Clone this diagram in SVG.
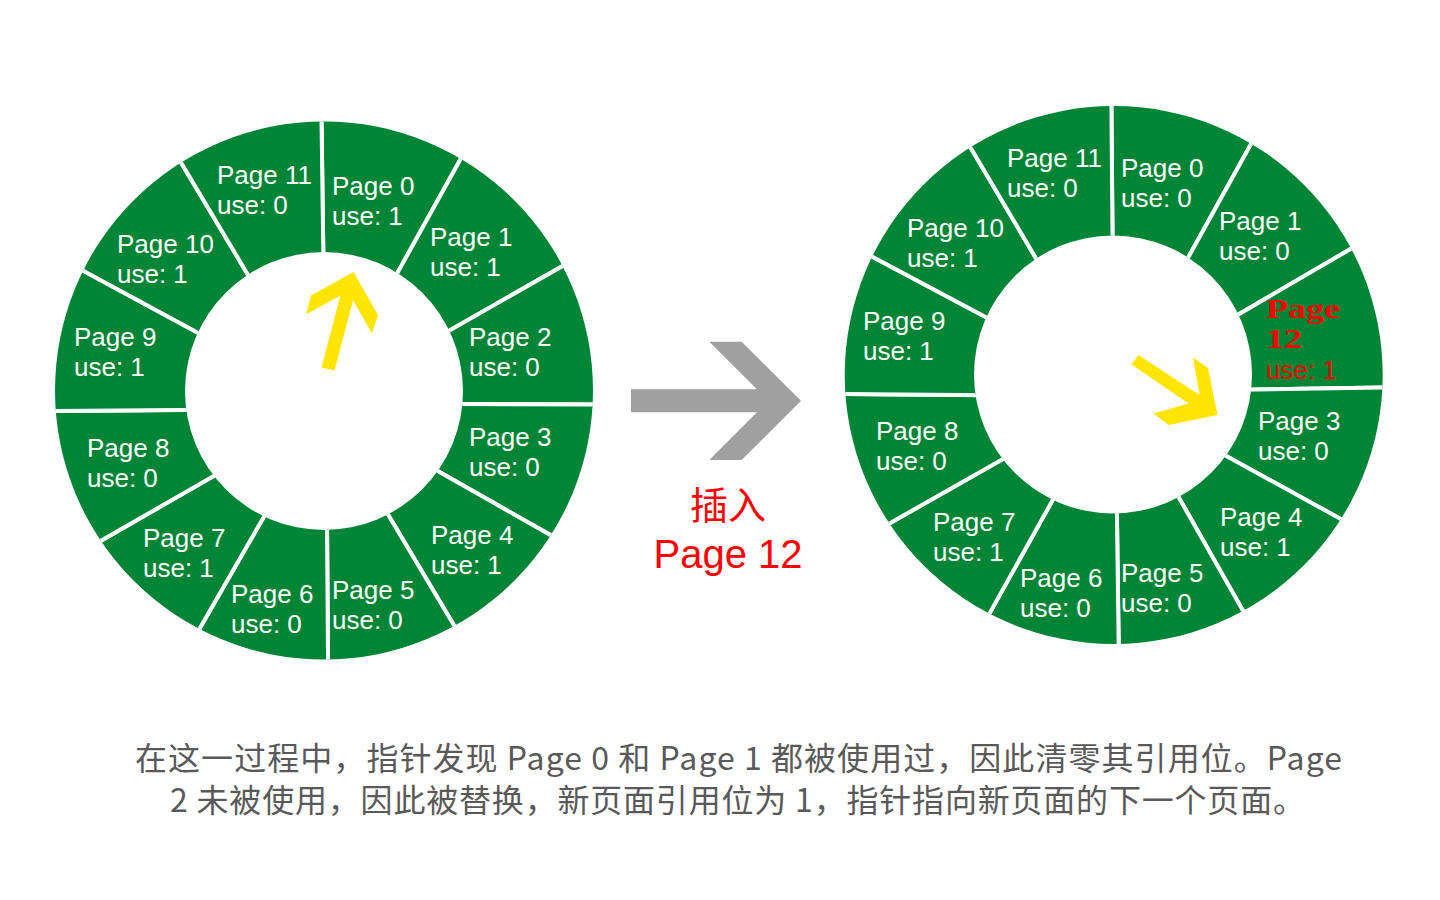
<svg xmlns="http://www.w3.org/2000/svg" width="1440" height="900" viewBox="0 0 1440 900">
<style>
.seg path{fill:#008537;stroke:#fff;stroke-width:4;stroke-linejoin:miter}
.lbl{font-family:"Liberation Sans","Arial",sans-serif;font-size:26px;fill:#fff}
.red{fill:#ff0000}
.bold12{font-family:"Liberation Serif",serif;font-weight:bold;font-size:28px;fill:#ff0000}
.ptr{fill:#ffe500}
.cap{font-family:"Noto Sans CJK SC","Noto Sans",sans-serif;font-size:32px;fill:#595959}
.ins{fill:#ff0000;text-anchor:middle}
.insz{font-family:"Noto Sans CJK SC",sans-serif;font-size:38px}
.insp{font-family:"Liberation Sans","Arial",sans-serif;font-size:40px}
</style>
<defs>
<clipPath id="ringL"><path clip-rule="evenodd" d="M55,390.5a269,269 0 1,0 538,0a269,269 0 1,0 -538,0ZM185,391a139,139 0 1,0 278,0a139,139 0 1,0 -278,0Z"/></clipPath>
<clipPath id="ringR"><path clip-rule="evenodd" d="M844.7,375a269,269 0 1,0 538,0a269,269 0 1,0 -538,0ZM974,374.5a139,139 0 1,0 278,0a139,139 0 1,0 -278,0Z"/></clipPath>
</defs>
<rect width="1440" height="900" fill="#fff"/>

<!-- Left ring -->
<g id="left-ring">
<g id="L-page0" class="seg"><path clip-path="url(#ringL)" d="M324.1,310L320.7,61L489.9,106.3L370.1,322.1Z"/><text class="lbl" x="332" y="195">Page 0</text><text class="lbl" x="332" y="225">use: 1</text></g>
<g id="L-page1" class="seg"><path clip-path="url(#ringL)" d="M370.1,322.1L489.9,106.3L611.2,238.4L401.3,357.9Z"/><text class="lbl" x="430" y="246">Page 1</text><text class="lbl" x="430" y="276">use: 1</text></g>
<g id="L-page2" class="seg"><path clip-path="url(#ringL)" d="M401.3,357.9L611.2,238.4L649.9,404.7L405.5,403.8Z"/><text class="lbl" x="469" y="346">Page 2</text><text class="lbl" x="469" y="376">use: 0</text></g>
<g id="L-page3" class="seg"><path clip-path="url(#ringL)" d="M405.5,403.8L649.9,404.7L600.4,563.4L389.3,443.6Z"/><text class="lbl" x="469" y="446">Page 3</text><text class="lbl" x="469" y="476">use: 0</text></g>
<g id="L-page4" class="seg"><path clip-path="url(#ringL)" d="M389.3,443.6L600.4,563.4L484,675.7L360.8,468.8Z"/><text class="lbl" x="431" y="544">Page 4</text><text class="lbl" x="431" y="574">use: 1</text></g>
<g id="L-page5" class="seg"><path clip-path="url(#ringL)" d="M360.8,468.8L484,675.7L328.5,719.3L326.6,473.2Z"/><text class="lbl" x="332" y="599">Page 5</text><text class="lbl" x="332" y="629">use: 0</text></g>
<g id="L-page6" class="seg"><path clip-path="url(#ringL)" d="M326.6,473.2L328.5,719.3L170.1,679.9L292.2,467.5Z"/><text class="lbl" x="231" y="603">Page 6</text><text class="lbl" x="231" y="633">use: 0</text></g>
<g id="L-page7" class="seg"><path clip-path="url(#ringL)" d="M292.2,467.5L170.1,679.9L51,569.4L262,448.3Z"/><text class="lbl" x="143" y="547">Page 7</text><text class="lbl" x="143" y="577">use: 1</text></g>
<g id="L-page8" class="seg"><path clip-path="url(#ringL)" d="M262,448.3L51,569.4L-2.5,411.5L244.5,409.5Z"/><text class="lbl" x="87" y="457">Page 8</text><text class="lbl" x="87" y="487">use: 0</text></g>
<g id="L-page9" class="seg"><path clip-path="url(#ringL)" d="M244.5,409.5L-2.5,411.5L32.5,243.3L248.6,360.3Z"/><text class="lbl" x="74" y="346">Page 9</text><text class="lbl" x="74" y="376">use: 1</text></g>
<g id="L-page10" class="seg"><path clip-path="url(#ringL)" d="M248.6,360.3L32.5,243.3L151.2,112.5L275.8,321.5Z"/><text class="lbl" x="117" y="253">Page 10</text><text class="lbl" x="117" y="283">use: 1</text></g>
<g id="L-page11" class="seg"><path clip-path="url(#ringL)" d="M275.8,321.5L151.2,112.5L320.7,61L324.1,310Z"/><text class="lbl" x="217" y="184">Page 11</text><text class="lbl" x="217" y="214">use: 0</text></g>
</g>
<g id="L-pointer"><path class="ptr" d="M353.5,272L378,315L372,333.5L353,300.2L334.5,370.5L321.5,367.5L340.4,295.4L306,314.5L311,295.5Z"/></g>

<!-- Right ring -->
<g id="right-ring">
<g id="R-page0" class="seg"><path clip-path="url(#ringR)" d="M1113,293L1110.9,46L1279,93.5L1161.7,305.4Z"/><text class="lbl" x="1121" y="177">Page 0</text><text class="lbl" x="1121" y="207">use: 0</text></g>
<g id="R-page1" class="seg"><path clip-path="url(#ringR)" d="M1161.7,305.4L1279,93.5L1398.2,221.2L1191.3,341.9Z"/><text class="lbl" x="1219" y="230">Page 1</text><text class="lbl" x="1219" y="260">use: 0</text></g>
<g id="R-page12" class="seg"><path clip-path="url(#ringR)" d="M1191.3,341.9L1398.2,221.2L1440.9,386.6L1192.3,390.5Z"/><text class="bold12" x="1266" y="318" textLength="74" lengthAdjust="spacingAndGlyphs">Page</text><text class="bold12" x="1266" y="348" textLength="36" lengthAdjust="spacingAndGlyphs">12</text><text class="lbl red" x="1266" y="379">use: 1</text></g>
<g id="R-page3" class="seg"><path clip-path="url(#ringR)" d="M1192.3,390.5L1440.9,386.6L1385.5,543.7L1178.6,429.7Z"/><text class="lbl" x="1258" y="430">Page 3</text><text class="lbl" x="1258" y="460">use: 0</text></g>
<g id="R-page4" class="seg"><path clip-path="url(#ringR)" d="M1178.6,429.7L1385.5,543.7L1269.9,658.2L1152.6,451.3Z"/><text class="lbl" x="1220" y="526">Page 4</text><text class="lbl" x="1220" y="556">use: 1</text></g>
<g id="R-page5" class="seg"><path clip-path="url(#ringR)" d="M1152.6,451.3L1269.9,658.2L1119.5,705.3L1116.1,453.3Z"/><text class="lbl" x="1121" y="582">Page 5</text><text class="lbl" x="1121" y="612">use: 0</text></g>
<g id="R-page6" class="seg"><path clip-path="url(#ringR)" d="M1116.1,453.3L1119.5,705.3L962,662.8L1079.3,452.2Z"/><text class="lbl" x="1020" y="587">Page 6</text><text class="lbl" x="1020" y="617">use: 0</text></g>
<g id="R-page7" class="seg"><path clip-path="url(#ringR)" d="M1079.3,452.2L962,662.8L842.7,549.9L1049.7,432.6Z"/><text class="lbl" x="933" y="531">Page 7</text><text class="lbl" x="933" y="561">use: 1</text></g>
<g id="R-page8" class="seg"><path clip-path="url(#ringR)" d="M1049.7,432.6L842.7,549.9L787.9,393.5L1033.3,395.5Z"/><text class="lbl" x="876" y="440">Page 8</text><text class="lbl" x="876" y="470">use: 0</text></g>
<g id="R-page9" class="seg"><path clip-path="url(#ringR)" d="M1033.3,395.5L787.9,393.5L822.1,230L1036.1,344Z"/><text class="lbl" x="863" y="330">Page 9</text><text class="lbl" x="863" y="360">use: 1</text></g>
<g id="R-page10" class="seg"><path clip-path="url(#ringR)" d="M1036.1,344L822.1,230L940.4,96.5L1064.6,306.8Z"/><text class="lbl" x="907" y="237">Page 10</text><text class="lbl" x="907" y="267">use: 1</text></g>
<g id="R-page11" class="seg"><path clip-path="url(#ringR)" d="M1064.6,306.8L940.4,96.5L1110.9,46L1113,293Z"/><text class="lbl" x="1007" y="167">Page 11</text><text class="lbl" x="1007" y="197">use: 0</text></g>
</g>
<g id="R-pointer"><path class="ptr" d="M1217.5,415L1208,368L1193,357.5L1199.5,395L1138.5,355L1131.5,364.5L1188.5,403.5L1153.3,413.5L1169,425Z"/></g>

<g id="connectors">
<path fill="#a0a0a0" d="M631,389.3L756.9,389.3L709.3,341.7L741.7,341.7L801,400.7L741.7,460L709.3,460L757,412.3L631,412.3Z"/>
</g>
<g id="insert-label">
<text class="ins insz" x="728" y="519">插入</text>
<text class="ins insp" x="728" y="568">Page 12</text>
</g>

<g id="caption">
<text class="cap" x="135" y="770" textLength="1207" lengthAdjust="spacing">在这一过程中，指针发现 Page 0 和 Page 1 都被使用过，因此清零其引用位。Page</text>
<text class="cap" x="170" y="812" textLength="1135" lengthAdjust="spacing">2 未被使用，因此被替换，新页面引用位为 1，指针指向新页面的下一个页面。</text>
</g>
</svg>
